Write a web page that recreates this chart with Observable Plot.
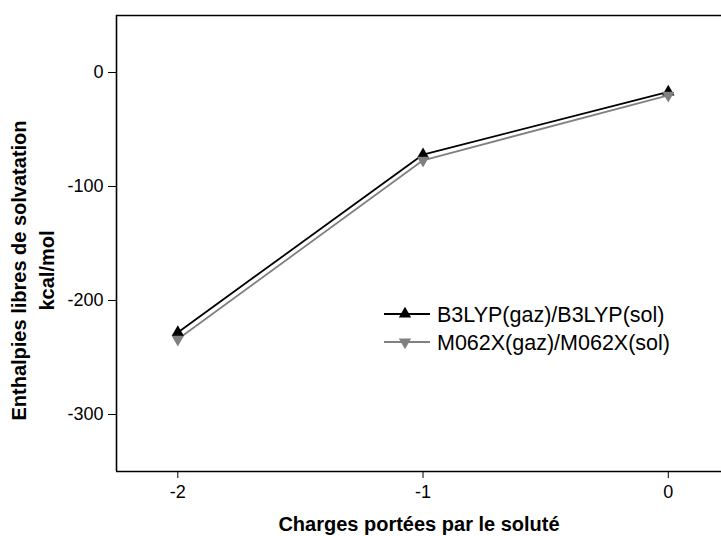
<!DOCTYPE html>
<html>
<head>
<meta charset="utf-8">
<script src="https://cdn.jsdelivr.net/npm/d3@7"></script>
<script src="https://cdn.jsdelivr.net/npm/@observablehq/plot@0.6"></script>
<style>
  html, body { margin: 0; padding: 0; background: white; }
  #wrap { position: relative; width: 721px; height: 536px; overflow: hidden; }
</style>
</head>
<body>
<div id="wrap"></div>
<script>
const charges = [-2, -1, 0];
const b3lyp = [-228, -72, -17];
const m062x = [-234, -77, -20];
const seriesNames = ["B3LYP(gaz)/B3LYP(sol)", "M062X(gaz)/M062X(sol)"];
const seriesColors = ["#000000", "#808080"];
const yTicks = [0, -100, -200, -300];
const xTicks = [-2, -1, 0];
const xTitle = "Charges portées par le soluté";
const yTitle1 = "Enthalpies libres de solvatation";
const yTitle2 = "kcal/mol";

const dataB = charges.map((c, i) => ({x: c, y: b3lyp[i]}));
const dataM = charges.map((c, i) => ({x: c, y: m062x[i]}));

const font = "'Liberation Sans', Arial, sans-serif";

const chart = Plot.plot({
  width: 721,
  height: 536,
  marginLeft: 116,
  marginRight: 0,
  marginTop: 15,
  marginBottom: 65,
  style: {fontFamily: font, fontSize: "18px", color: "black", background: "white"},
  x: {domain: [-2.25, 0.217]},
  y: {domain: [-350, 50]},
  marks: [
    Plot.axisY({ticks: yTicks, tickSize: 8, tickPadding: 5, tickFormat: d => String(d), label: null, fontSize: 18}),
    Plot.axisX({ticks: xTicks, tickSize: 7, tickPadding: 7, tickFormat: d => String(d), label: null, fontSize: 18}),
    Plot.ruleY([50], {stroke: "black", strokeWidth: 1.6}),
    Plot.ruleY([-350], {stroke: "black", strokeWidth: 1.6}),
    Plot.ruleX([-2.25], {stroke: "black", strokeWidth: 1.6}),
    Plot.line(dataB, {x: "x", y: "y", stroke: seriesColors[0], strokeWidth: 1.8}),
    Plot.line(dataM, {x: "x", y: "y", stroke: seriesColors[1], strokeWidth: 1.8}),
    Plot.dot(dataB, {x: "x", y: "y", symbol: "triangle", r: 4.6, fill: seriesColors[0], stroke: "none"}),
    Plot.dot(dataM, {x: "x", y: "y", symbol: "triangle", rotate: 180, r: 4.6, fill: seriesColors[1], stroke: "none"}),
    Plot.text([xTitle], {frameAnchor: "bottom", dy: 59.5, text: d => d, fontSize: 20, fontWeight: "bold", fill: "black"}),
    Plot.text([yTitle1], {frameAnchor: "left", textAnchor: "middle", dx: -97, dy: 27, rotate: -90, text: d => d, fontSize: 20, fontWeight: "bold", fill: "black"}),
    Plot.text([yTitle2], {frameAnchor: "left", textAnchor: "middle", dx: -69, dy: 27, rotate: -90, text: d => d, fontSize: 20, fontWeight: "bold", fill: "black"})
  ]
});

const wrap = document.getElementById("wrap");
wrap.appendChild(chart);

// Legend overlay
const legend = d3.create("svg").attr("width", 330).attr("height", 60)
  .style("position", "absolute").style("left", "380px").style("top", "298px").style("overflow", "visible");
const rowH = 28;
seriesNames.forEach((name, i) => {
  const g = legend.append("g").attr("transform", `translate(0,${16 + i * rowH})`);
  g.append("line").attr("x1", 4).attr("x2", 50).attr("y1", 0).attr("y2", 0)
    .attr("stroke", seriesColors[i]).attr("stroke-width", 1.8);
  const sym = d3.symbol(d3.symbolTriangle, Math.PI * 4.6 * 4.6)();
  g.append("path").attr("d", sym)
    .attr("transform", `translate(25,0) rotate(${i === 0 ? 0 : 180})`)
    .attr("fill", seriesColors[i]);
  g.append("text").attr("x", 57).attr("y", 0).attr("dy", "0.36em")
    .attr("font-family", font).attr("font-size", 21.5).attr("fill", "black").text(name);
});
wrap.appendChild(legend.node());
</script>
</body>
</html>
